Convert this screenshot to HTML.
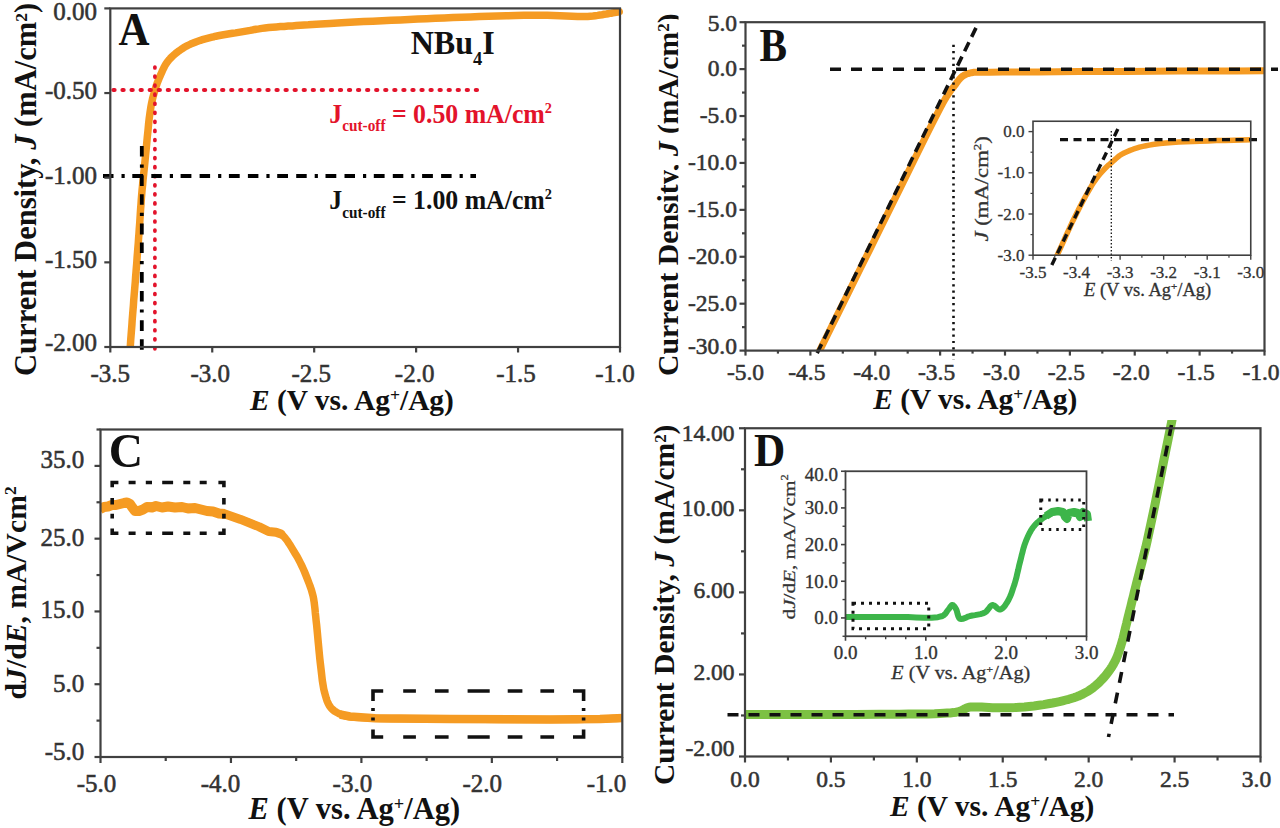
<!DOCTYPE html>
<html><head><meta charset="utf-8"><style>
html,body{margin:0;padding:0;background:#fff;}
svg{display:block;}
text{font-family:"Liberation Serif", serif;}
.tl{stroke:#333;stroke-width:0.55px;}
.ts{stroke-width:0.3px;}
</style></head><body>
<svg width="1280" height="828" viewBox="0 0 1280 828">
<rect width="1280" height="828" fill="#fff"/>
<defs><clipPath id="clipB"><rect x="600" y="0" width="78.5" height="414"/></clipPath><clipPath id="cA"><rect x="110.3" y="0" width="515" height="347"/></clipPath><clipPath id="cB"><rect x="745.5" y="0" width="519" height="350.6"/></clipPath><clipPath id="cIB"><rect x="1033" y="121" width="218" height="134.5"/></clipPath><clipPath id="cC"><rect x="100.5" y="429.5" width="522" height="327.5"/></clipPath><clipPath id="cD"><rect x="745" y="420" width="516" height="336.5"/></clipPath><clipPath id="cID"><rect x="845.5" y="471" width="244" height="165"/></clipPath></defs>
<polyline points="130.0,350.0 130.4,345.0 130.7,340.0 131.1,335.0 131.5,329.9 131.9,324.9 132.2,319.9 132.6,315.0 133.0,310.0 133.4,305.2 133.7,300.4 134.1,295.7 134.5,291.0 134.9,286.2 135.3,281.5 135.6,276.8 136.0,272.0 136.4,267.1 136.8,262.3 137.1,257.4 137.5,252.5 137.9,247.6 138.3,242.7 138.6,237.9 139.0,233.0 139.3,228.2 139.7,223.4 140.0,218.5 140.3,213.7 140.6,208.9 141.0,204.1 141.3,199.3 141.7,194.5 142.1,189.7 142.6,185.0 143.0,180.3 143.5,175.5 144.0,170.8 144.5,166.0 145.0,161.0 145.5,156.0 146.1,150.0 146.7,143.6 147.3,137.0 148.0,130.4 148.6,123.9 149.3,117.7 150.1,112.0 150.9,106.9 151.4,104.1 152.0,101.4 152.5,99.0 153.1,96.6 153.7,94.4 154.3,92.2 155.0,90.1 155.6,88.0 156.1,86.3 156.7,84.7 157.2,83.1 157.8,81.6 158.4,80.1 159.0,78.6 159.6,77.1 160.3,75.6 161.0,74.0 161.7,72.4 162.4,70.7 163.2,69.1 164.0,67.5 164.8,65.9 165.7,64.4 166.6,63.0 167.5,61.8 168.3,60.7 169.3,59.6 170.2,58.5 171.2,57.5 172.2,56.5 173.3,55.5 174.4,54.5 175.8,53.3 177.2,52.2 178.7,51.1 180.3,50.0 181.9,48.9 183.5,47.8 185.2,46.8 186.9,45.9 188.7,45.0 190.6,44.1 192.6,43.3 194.5,42.5 196.5,41.7 198.5,41.0 200.5,40.3 202.5,39.7 204.4,39.1 206.3,38.6 208.2,38.1 210.1,37.6 212.0,37.1 214.0,36.7 216.0,36.2 218.1,35.8 220.8,35.3 223.6,34.8 226.6,34.3 229.5,33.8 232.6,33.3 235.6,32.9 238.6,32.4 241.6,31.9 244.5,31.4 247.4,30.9 250.2,30.4 253.1,29.8 256.0,29.3 258.9,28.9 261.9,28.4 265.0,28.0 268.7,27.6 272.5,27.2 276.3,26.9 280.3,26.6 284.2,26.4 288.2,26.1 292.3,25.9 296.2,25.6 300.3,25.3 304.3,25.0 308.3,24.8 312.3,24.5 316.4,24.2 320.7,24.0 325.2,23.7 330.0,23.4 337.6,23.0 345.8,22.5 354.5,22.1 363.6,21.6 372.8,21.2 382.1,20.7 391.3,20.3 400.3,19.9 409.1,19.5 417.9,19.1 426.6,18.7 435.4,18.3 444.2,17.9 452.9,17.5 461.7,17.2 470.5,16.9 479.4,16.6 488.4,16.3 497.5,16.0 506.5,15.8 515.5,15.5 524.2,15.3 532.7,15.2 540.8,15.2 547.2,15.3 553.7,15.5 560.0,15.7 566.1,16.0 572.0,16.3 577.6,16.5 582.8,16.5 587.6,16.4 590.4,16.2 593.0,16.0 595.4,15.7 597.7,15.4 599.9,15.0 602.1,14.7 604.2,14.3 606.3,14.0 608.0,13.7 609.7,13.4 611.3,13.2 612.9,12.9 614.5,12.6 616.0,12.3 617.6,12.0 619.2,11.7" fill="none" stroke="#F59B23" stroke-width="7.5" stroke-linejoin="round" stroke-linecap="round" clip-path="url(#cA)"/>
<line x1="113.4" y1="90" x2="483" y2="90" stroke="#E3132B" stroke-width="4.1" stroke-dasharray="1.2 7.86" stroke-linecap="round"/>
<line x1="154.9" y1="67" x2="154.9" y2="353" stroke="#E3132B" stroke-width="3.7" stroke-dasharray="1.0 8.06" stroke-linecap="round"/>
<line x1="103" y1="176" x2="476" y2="176" stroke="#000" stroke-width="3.8" stroke-dasharray="10.5 8 3.2 7.6 10.8 8.2"/>
<line x1="141.8" y1="146" x2="141.8" y2="354" stroke="#000" stroke-width="3.8" stroke-dasharray="10.5 8 3.2 7.6 10.8 8.2"/>
<rect x="110.30" y="8.40" width="509.70" height="338.60" fill="none" stroke="#404040" stroke-width="2.2"/>
<line x1="110.30" y1="347.00" x2="110.30" y2="352.50" stroke="#404040" stroke-width="2.2" />
<text class="tl" x="110.30" y="381.50" font-size="25" text-anchor="middle" font-weight="normal" fill="#333333" >-3.5</text>
<line x1="212.24" y1="347.00" x2="212.24" y2="352.50" stroke="#404040" stroke-width="2.2" />
<text class="tl" x="210.24" y="381.50" font-size="25" text-anchor="middle" font-weight="normal" fill="#333333" >-3.0</text>
<line x1="314.18" y1="347.00" x2="314.18" y2="352.50" stroke="#404040" stroke-width="2.2" />
<text class="tl" x="311.18" y="381.50" font-size="25" text-anchor="middle" font-weight="normal" fill="#333333" >-2.5</text>
<line x1="416.12" y1="347.00" x2="416.12" y2="352.50" stroke="#404040" stroke-width="2.2" />
<text class="tl" x="414.62" y="381.50" font-size="25" text-anchor="middle" font-weight="normal" fill="#333333" >-2.0</text>
<line x1="518.06" y1="347.00" x2="518.06" y2="352.50" stroke="#404040" stroke-width="2.2" />
<text class="tl" x="516.06" y="381.50" font-size="25" text-anchor="middle" font-weight="normal" fill="#333333" >-1.5</text>
<line x1="620.00" y1="347.00" x2="620.00" y2="352.50" stroke="#404040" stroke-width="2.2" />
<text class="tl" x="615.00" y="381.50" font-size="25" text-anchor="middle" font-weight="normal" fill="#333333" >-1.0</text>
<line x1="104.30" y1="8.40" x2="110.30" y2="8.40" stroke="#404040" stroke-width="2.2" />
<text class="tl" x="97.00" y="20.00" font-size="25" text-anchor="end" font-weight="normal" fill="#333333" >0.00</text>
<line x1="104.30" y1="93.05" x2="110.30" y2="93.05" stroke="#404040" stroke-width="2.2" />
<text class="tl" x="97.00" y="99.10" font-size="25" text-anchor="end" font-weight="normal" fill="#333333" >-0.50</text>
<line x1="104.30" y1="177.70" x2="110.30" y2="177.70" stroke="#404040" stroke-width="2.2" />
<text class="tl" x="97.00" y="183.50" font-size="25" text-anchor="end" font-weight="normal" fill="#333333" >-1.00</text>
<line x1="104.30" y1="262.35" x2="110.30" y2="262.35" stroke="#404040" stroke-width="2.2" />
<text class="tl" x="97.00" y="268.40" font-size="25" text-anchor="end" font-weight="normal" fill="#333333" >-1.50</text>
<line x1="104.30" y1="347.00" x2="110.30" y2="347.00" stroke="#404040" stroke-width="2.2" />
<text class="tl" x="97.00" y="350.60" font-size="25" text-anchor="end" font-weight="normal" fill="#333333" >-2.00</text>
<g><g id="labA" transform="matrix(0.93333 0 0 1.01290 7.433 -0.381)"><text x="119" y="45" font-size="46" font-weight="bold" fill="#111">A</text></g></g>
<g><g id="nbu" transform="matrix(0.97209 0 0 1.00000 12.142 -0.400)"><text x="410" y="54" font-size="33" font-weight="bold" fill="#111">NBu<tspan font-size="19" dy="11.5">4</tspan><tspan dy="-11.5">I</tspan></text></g></g>
<g><g id="j050" transform="matrix(0.95560 0 0 1.00357 13.995 0.032)"><text x="330" y="122.5" font-size="27" font-weight="bold" fill="#E3132B">J<tspan font-size="16" dy="8.5">cut-off</tspan><tspan dy="-8.5"> = 0.50 mA/cm</tspan><tspan font-size="15" dy="-10">2</tspan></text></g></g>
<g><g id="j100" transform="matrix(0.95560 0 0 1.00357 13.995 -0.275)"><text x="330" y="208.6" font-size="27" font-weight="bold" fill="#111">J<tspan font-size="16" dy="8.5">cut-off</tspan><tspan dy="-8.5"> = 1.00 mA/cm</tspan><tspan font-size="15" dy="-10">2</tspan></text></g></g>
<g><g id="xtA" transform="matrix(0.98077 0 0 0.98077 6.169 7.575)"><text x="352.5" y="410" font-size="30" font-weight="bold" text-anchor="middle" fill="#111"><tspan font-style="italic">E</tspan> (V vs. Ag<tspan font-size="18" dy="-9.0">+</tspan><tspan dy="9.0">/Ag)</tspan></text></g></g>
<g><g id="ytA" transform="matrix(1.01923 0 0 1.01923 -2.027 1.862)"><text transform="translate(37,184) rotate(-90)" font-size="30" font-weight="bold" text-anchor="middle" fill="#111">Current Density, <tspan font-style="italic">J</tspan> (mA/cm<tspan font-size="17" dy="-9">2</tspan><tspan dy="9">)</tspan></text></g></g>
<polyline points="818.0,354.0 828.3,333.3 838.5,312.6 848.8,292.0 859.0,271.3 869.3,250.6 879.5,230.0 890.4,207.9 902.2,184.1 914.0,160.2 924.9,138.2 934.1,119.9 940.7,107.1 942.1,104.5 943.2,102.4 944.2,100.7 945.1,99.1 946.0,97.6 947.0,96.0 948.0,94.5 949.0,93.0 950.1,91.6 951.1,90.1 952.2,88.7 953.4,87.2 954.8,85.4 956.2,83.4 957.7,81.4 959.3,79.4 960.8,77.7 962.5,76.3 963.9,75.4 965.3,74.6 966.7,74.0 968.2,73.5 969.8,73.1 971.5,72.7 974.0,72.3 976.6,72.2 979.3,72.2 982.4,72.2 985.9,72.3 990.0,72.3 1002.8,72.1 1019.0,72.0 1037.9,71.9 1058.3,71.7 1079.3,71.6 1100.0,71.5 1125.4,71.4 1152.2,71.2 1180.0,71.1 1208.1,71.0 1236.3,70.9 1264.0,70.8" fill="none" stroke="#F59B23" stroke-width="7" stroke-linejoin="round" stroke-linecap="round" clip-path="url(#cB)"/>
<line x1="976" y1="27.85" x2="816" y2="355.5" stroke="#111" stroke-width="3.6" stroke-dasharray="10 6"/>
<line x1="830" y1="69.2" x2="1278" y2="69.2" stroke="#111" stroke-width="3.6" stroke-dasharray="11 10"/>
<line x1="953.5" y1="44.8" x2="953.5" y2="360" stroke="#111" stroke-width="2.6" stroke-dasharray="2.2 4.1"/>
<rect x="745.50" y="22.20" width="519.00" height="328.40" fill="none" stroke="#404040" stroke-width="2.2"/>
<line x1="745.50" y1="350.60" x2="745.50" y2="355.60" stroke="#404040" stroke-width="2.2" />
<text class="tl" x="745.50" y="379.50" font-size="23.5" text-anchor="middle" font-weight="normal" fill="#333333" >-5.0</text>
<line x1="777.94" y1="350.60" x2="777.94" y2="353.60" stroke="#404040" stroke-width="2.2" />
<line x1="810.38" y1="350.60" x2="810.38" y2="355.60" stroke="#404040" stroke-width="2.2" />
<text class="tl" x="806.88" y="379.50" font-size="23.5" text-anchor="middle" font-weight="normal" fill="#333333" >-4.5</text>
<line x1="842.81" y1="350.60" x2="842.81" y2="353.60" stroke="#404040" stroke-width="2.2" />
<line x1="875.25" y1="350.60" x2="875.25" y2="355.60" stroke="#404040" stroke-width="2.2" />
<text class="tl" x="871.75" y="379.50" font-size="23.5" text-anchor="middle" font-weight="normal" fill="#333333" >-4.0</text>
<line x1="907.69" y1="350.60" x2="907.69" y2="353.60" stroke="#404040" stroke-width="2.2" />
<line x1="940.12" y1="350.60" x2="940.12" y2="355.60" stroke="#404040" stroke-width="2.2" />
<text class="tl" x="936.62" y="379.50" font-size="23.5" text-anchor="middle" font-weight="normal" fill="#333333" >-3.5</text>
<line x1="972.56" y1="350.60" x2="972.56" y2="353.60" stroke="#404040" stroke-width="2.2" />
<line x1="1005.00" y1="350.60" x2="1005.00" y2="355.60" stroke="#404040" stroke-width="2.2" />
<text class="tl" x="1001.50" y="379.50" font-size="23.5" text-anchor="middle" font-weight="normal" fill="#333333" >-3.0</text>
<line x1="1037.44" y1="350.60" x2="1037.44" y2="353.60" stroke="#404040" stroke-width="2.2" />
<line x1="1069.88" y1="350.60" x2="1069.88" y2="355.60" stroke="#404040" stroke-width="2.2" />
<text class="tl" x="1066.38" y="379.50" font-size="23.5" text-anchor="middle" font-weight="normal" fill="#333333" >-2.5</text>
<line x1="1102.31" y1="350.60" x2="1102.31" y2="353.60" stroke="#404040" stroke-width="2.2" />
<line x1="1134.75" y1="350.60" x2="1134.75" y2="355.60" stroke="#404040" stroke-width="2.2" />
<text class="tl" x="1131.25" y="379.50" font-size="23.5" text-anchor="middle" font-weight="normal" fill="#333333" >-2.0</text>
<line x1="1167.19" y1="350.60" x2="1167.19" y2="353.60" stroke="#404040" stroke-width="2.2" />
<line x1="1199.62" y1="350.60" x2="1199.62" y2="355.60" stroke="#404040" stroke-width="2.2" />
<text class="tl" x="1196.12" y="379.50" font-size="23.5" text-anchor="middle" font-weight="normal" fill="#333333" >-1.5</text>
<line x1="1232.06" y1="350.60" x2="1232.06" y2="353.60" stroke="#404040" stroke-width="2.2" />
<line x1="1264.50" y1="350.60" x2="1264.50" y2="355.60" stroke="#404040" stroke-width="2.2" />
<text class="tl" x="1261.00" y="379.50" font-size="23.5" text-anchor="middle" font-weight="normal" fill="#333333" >-1.0</text>
<line x1="739.50" y1="22.20" x2="745.50" y2="22.20" stroke="#404040" stroke-width="2.2" />
<text class="tl" x="737.00" y="31.00" font-size="23.5" text-anchor="end" font-weight="normal" fill="#333333" >5.0</text>
<line x1="742.00" y1="45.66" x2="745.50" y2="45.66" stroke="#404040" stroke-width="2.2" />
<line x1="739.50" y1="69.11" x2="745.50" y2="69.11" stroke="#404040" stroke-width="2.2" />
<text class="tl" x="737.00" y="76.11" font-size="23.5" text-anchor="end" font-weight="normal" fill="#333333" >0.0</text>
<line x1="742.00" y1="92.57" x2="745.50" y2="92.57" stroke="#404040" stroke-width="2.2" />
<line x1="739.50" y1="116.03" x2="745.50" y2="116.03" stroke="#404040" stroke-width="2.2" />
<text class="tl" x="737.00" y="123.03" font-size="23.5" text-anchor="end" font-weight="normal" fill="#333333" >-5.0</text>
<line x1="742.00" y1="139.49" x2="745.50" y2="139.49" stroke="#404040" stroke-width="2.2" />
<line x1="739.50" y1="162.94" x2="745.50" y2="162.94" stroke="#404040" stroke-width="2.2" />
<text class="tl" x="737.00" y="169.94" font-size="23.5" text-anchor="end" font-weight="normal" fill="#333333" >-10.0</text>
<line x1="742.00" y1="186.40" x2="745.50" y2="186.40" stroke="#404040" stroke-width="2.2" />
<line x1="739.50" y1="209.86" x2="745.50" y2="209.86" stroke="#404040" stroke-width="2.2" />
<text class="tl" x="737.00" y="216.86" font-size="23.5" text-anchor="end" font-weight="normal" fill="#333333" >-15.0</text>
<line x1="742.00" y1="233.31" x2="745.50" y2="233.31" stroke="#404040" stroke-width="2.2" />
<line x1="739.50" y1="256.77" x2="745.50" y2="256.77" stroke="#404040" stroke-width="2.2" />
<text class="tl" x="737.00" y="263.77" font-size="23.5" text-anchor="end" font-weight="normal" fill="#333333" >-20.0</text>
<line x1="742.00" y1="280.23" x2="745.50" y2="280.23" stroke="#404040" stroke-width="2.2" />
<line x1="739.50" y1="303.69" x2="745.50" y2="303.69" stroke="#404040" stroke-width="2.2" />
<text class="tl" x="737.00" y="310.69" font-size="23.5" text-anchor="end" font-weight="normal" fill="#333333" >-25.0</text>
<line x1="742.00" y1="327.14" x2="745.50" y2="327.14" stroke="#404040" stroke-width="2.2" />
<line x1="739.50" y1="350.60" x2="745.50" y2="350.60" stroke="#404040" stroke-width="2.2" />
<text class="tl" x="737.00" y="354.20" font-size="23.5" text-anchor="end" font-weight="normal" fill="#333333" >-30.0</text>
<g><g id="labB" transform="matrix(0.96071 0 0 1.07679 28.396 -4.284)"><text x="761" y="61" font-size="43" font-weight="bold" fill="#111">B</text></g></g>
<g><g id="xtB" transform="matrix(0.98173 0 0 0.98173 18.594 6.012)"><text x="974.5" y="410" font-size="30" font-weight="bold" text-anchor="middle" fill="#111"><tspan font-style="italic">E</tspan> (V vs. Ag<tspan font-size="18" dy="-9.0">+</tspan><tspan dy="9.0">/Ag)</tspan></text></g></g>
<g clip-path="url(#clipB)"><g id="ytB" transform="matrix(0.99038 0 0 0.99038 5.512 1.625)"><text transform="translate(679,195) rotate(-90)" font-size="30" font-weight="bold" text-anchor="middle" fill="#111">Current Density, <tspan font-style="italic">J</tspan> (mA/cm<tspan font-size="17" dy="-9">2</tspan><tspan dy="9">)</tspan></text></g></g>
<rect x="1033" y="121.25" width="217.75" height="133.95" fill="#fff" stroke="none"/>
<polyline points="1055.5,259.0 1058.9,251.4 1062.4,243.8 1065.8,236.1 1069.3,228.6 1072.7,221.2 1076.2,214.2 1079.2,208.2 1082.3,202.3 1085.4,196.5 1088.5,191.1 1091.4,186.1 1094.3,181.6 1096.2,178.9 1098.0,176.5 1099.8,174.3 1101.6,172.2 1103.3,170.3 1105.0,168.5 1106.3,167.2 1107.5,166.0 1108.7,164.9 1110.0,163.9 1111.2,162.8 1112.5,161.7 1113.9,160.5 1115.3,159.2 1116.7,158.0 1118.1,156.7 1119.7,155.5 1121.5,154.4 1124.1,153.0 1126.9,151.7 1130.0,150.4 1133.2,149.2 1136.4,148.2 1139.6,147.2 1142.8,146.4 1146.0,145.7 1149.3,145.1 1152.6,144.5 1156.2,144.1 1160.0,143.6 1165.8,143.0 1172.2,142.5 1178.8,142.1 1185.8,141.8 1192.9,141.5 1200.0,141.2 1208.1,140.9 1216.5,140.6 1225.1,140.4 1233.8,140.2 1242.4,140.0 1251.0,139.8" fill="none" stroke="#F59B23" stroke-width="5.5" stroke-linejoin="round" stroke-linecap="round" clip-path="url(#cIB)"/>
<line x1="1051.8" y1="264.9" x2="1117.9" y2="129" stroke="#111" stroke-width="3.4" stroke-dasharray="8 5"/>
<line x1="1060" y1="139.6" x2="1261" y2="139.6" stroke="#111" stroke-width="3.4" stroke-dasharray="8 5.5"/>
<line x1="1111.3" y1="131" x2="1111.3" y2="261" stroke="#111" stroke-width="1.3" stroke-dasharray="1.5 2"/>
<rect x="1033.00" y="121.25" width="217.75" height="133.95" fill="none" stroke="#404040" stroke-width="1.6"/>
<line x1="1033.00" y1="255.20" x2="1033.00" y2="259.70" stroke="#404040" stroke-width="1.4" />
<text class="tl" x="1033.00" y="277.50" font-size="17" text-anchor="middle" font-weight="normal" fill="#333333" style="stroke-width:0.3px">-3.5</text>
<line x1="1054.77" y1="255.20" x2="1054.77" y2="257.70" stroke="#404040" stroke-width="1.2" />
<line x1="1076.55" y1="255.20" x2="1076.55" y2="259.70" stroke="#404040" stroke-width="1.4" />
<text class="tl" x="1076.55" y="277.50" font-size="17" text-anchor="middle" font-weight="normal" fill="#333333" style="stroke-width:0.3px">-3.4</text>
<line x1="1098.33" y1="255.20" x2="1098.33" y2="257.70" stroke="#404040" stroke-width="1.2" />
<line x1="1120.10" y1="255.20" x2="1120.10" y2="259.70" stroke="#404040" stroke-width="1.4" />
<text class="tl" x="1120.10" y="277.50" font-size="17" text-anchor="middle" font-weight="normal" fill="#333333" style="stroke-width:0.3px">-3.3</text>
<line x1="1141.88" y1="255.20" x2="1141.88" y2="257.70" stroke="#404040" stroke-width="1.2" />
<line x1="1163.65" y1="255.20" x2="1163.65" y2="259.70" stroke="#404040" stroke-width="1.4" />
<text class="tl" x="1163.65" y="277.50" font-size="17" text-anchor="middle" font-weight="normal" fill="#333333" style="stroke-width:0.3px">-3.2</text>
<line x1="1185.42" y1="255.20" x2="1185.42" y2="257.70" stroke="#404040" stroke-width="1.2" />
<line x1="1207.20" y1="255.20" x2="1207.20" y2="259.70" stroke="#404040" stroke-width="1.4" />
<text class="tl" x="1207.20" y="277.50" font-size="17" text-anchor="middle" font-weight="normal" fill="#333333" style="stroke-width:0.3px">-3.1</text>
<line x1="1228.97" y1="255.20" x2="1228.97" y2="257.70" stroke="#404040" stroke-width="1.2" />
<line x1="1250.75" y1="255.20" x2="1250.75" y2="259.70" stroke="#404040" stroke-width="1.4" />
<text class="tl" x="1250.75" y="277.50" font-size="17" text-anchor="middle" font-weight="normal" fill="#333333" style="stroke-width:0.3px">-3.0</text>
<line x1="1028.50" y1="131.60" x2="1033.00" y2="131.60" stroke="#404040" stroke-width="1.4" />
<text class="tl" x="1024.50" y="137.10" font-size="17" text-anchor="end" font-weight="normal" fill="#333333" style="stroke-width:0.3px">0.0</text>
<line x1="1030.50" y1="152.20" x2="1033.00" y2="152.20" stroke="#404040" stroke-width="1.2" />
<line x1="1028.50" y1="172.80" x2="1033.00" y2="172.80" stroke="#404040" stroke-width="1.4" />
<text class="tl" x="1024.50" y="178.30" font-size="17" text-anchor="end" font-weight="normal" fill="#333333" style="stroke-width:0.3px">-1.0</text>
<line x1="1030.50" y1="193.40" x2="1033.00" y2="193.40" stroke="#404040" stroke-width="1.2" />
<line x1="1028.50" y1="214.00" x2="1033.00" y2="214.00" stroke="#404040" stroke-width="1.4" />
<text class="tl" x="1024.50" y="219.50" font-size="17" text-anchor="end" font-weight="normal" fill="#333333" style="stroke-width:0.3px">-2.0</text>
<line x1="1030.50" y1="234.60" x2="1033.00" y2="234.60" stroke="#404040" stroke-width="1.2" />
<line x1="1028.50" y1="255.20" x2="1033.00" y2="255.20" stroke="#404040" stroke-width="1.4" />
<text class="tl" x="1024.50" y="260.70" font-size="17" text-anchor="end" font-weight="normal" fill="#333333" style="stroke-width:0.3px">-3.0</text>
<g><g id="xtIB" transform="matrix(1.00157 0 0 1.00000 -1.206 -1.900)"><text x="1147" y="297.5" font-size="18.5" text-anchor="middle" fill="#333333" style="stroke:#333;stroke-width:0.3px"><tspan font-style="italic">E</tspan> (V vs. Ag<tspan font-size="11" dy="-5.5">+</tspan><tspan dy="5.5">/Ag)</tspan></text></g></g>
<g><g id="ytIB" transform="matrix(0.88095 0 0 1.08041 112.810 -14.258)"><text transform="translate(993,188) rotate(-90)" font-size="21" text-anchor="middle" fill="#333333" style="stroke:#333;stroke-width:0.35px"><tspan font-style="italic">J</tspan> (mA/cm<tspan font-size="12" dy="-7">2</tspan><tspan dy="7">)</tspan></text></g></g>
<polyline points="99.0,508.5 99.2,508.4 99.5,508.4 99.7,508.3 99.9,508.3 100.2,508.2 100.5,508.1 101.7,507.8 103.3,507.4 105.1,506.9 107.0,506.4 108.9,506.0 110.5,505.6 111.6,505.4 112.7,505.2 113.8,505.0 114.8,504.9 115.8,504.7 116.8,504.5 117.7,504.3 118.6,504.0 119.4,503.7 120.3,503.5 121.2,503.2 122.0,503.0 122.7,502.8 123.4,502.6 124.1,502.5 124.8,502.3 125.5,502.3 126.1,502.3 126.7,502.4 127.3,502.6 127.9,502.9 128.5,503.3 129.0,503.6 129.5,504.0 129.9,504.4 130.3,504.9 130.6,505.4 131.0,505.9 131.3,506.4 131.8,506.9 132.3,507.5 132.8,508.3 133.4,509.0 134.0,509.6 134.7,510.2 135.5,510.6 136.6,510.9 137.8,510.9 139.2,510.9 140.5,510.7 141.8,510.4 143.0,510.0 143.9,509.5 144.7,508.8 145.4,508.1 146.2,507.4 147.0,506.7 148.0,506.2 149.7,506.0 151.6,506.0 153.7,506.2 155.9,506.5 158.2,506.7 160.5,506.9 163.3,506.9 166.2,506.9 169.1,506.9 172.1,506.8 175.1,506.8 178.0,506.9 180.7,507.0 183.3,507.1 186.0,507.3 188.6,507.5 191.1,507.8 193.7,508.1 196.1,508.5 198.5,508.9 200.8,509.4 203.1,509.9 205.5,510.4 207.8,510.9 210.1,511.3 212.4,511.8 214.7,512.2 217.1,512.6 219.4,513.1 221.9,513.7 224.9,514.5 228.0,515.3 231.1,516.3 234.3,517.3 237.5,518.3 240.6,519.4 243.8,520.6 247.1,521.8 250.4,523.1 253.6,524.4 256.6,525.7 259.3,526.9 261.1,527.8 262.7,528.6 264.3,529.5 265.7,530.3 267.2,531.0 268.7,531.5 270.0,531.8 271.2,531.9 272.5,531.9 273.7,532.0 274.9,532.0 276.0,532.2 276.9,532.4 277.8,532.6 278.6,532.9 279.4,533.2 280.2,533.6 281.0,534.0 281.8,534.6 282.6,535.3 283.3,536.0 284.1,536.8 284.8,537.6 285.5,538.5 286.3,539.5 287.1,540.5 287.8,541.6 288.6,542.8 289.4,544.0 290.3,545.4 291.8,547.9 293.5,550.7 295.3,553.7 297.2,556.8 298.9,560.0 300.5,563.1 301.9,566.0 303.3,569.0 304.6,572.0 305.8,575.0 307.0,578.0 308.1,580.9 309.1,583.5 310.0,585.9 310.9,588.4 311.7,590.9 312.4,593.4 313.1,596.1 313.7,599.3 314.2,602.5 314.6,605.9 315.0,609.3 315.3,612.8 315.7,616.4 316.1,620.5 316.6,624.7 317.0,628.9 317.4,633.2 317.8,637.5 318.2,641.8 318.6,646.0 319.0,650.3 319.4,654.5 319.8,658.7 320.3,663.0 320.8,667.2 321.3,671.5 321.8,675.9 322.3,680.3 323.0,684.7 323.7,688.8 324.6,692.6 325.4,695.5 326.2,698.3 327.1,700.9 328.2,703.4 329.4,705.7 330.9,707.8 332.6,709.5 334.4,711.0 336.5,712.3 338.7,713.5 341.1,714.5 343.6,715.4 347.1,716.3 350.8,716.9 354.8,717.3 359.1,717.6 363.8,717.7 369.0,718.0 379.8,718.4 392.3,718.7 406.1,718.8 420.7,718.9 435.5,718.9 450.0,719.0 466.5,719.1 483.8,719.3 501.5,719.4 518.8,719.5 535.2,719.5 550.0,719.5 559.5,719.5 568.6,719.4 577.2,719.4 585.3,719.3 592.9,719.2 600.0,719.0 604.5,718.9 608.6,718.7 612.5,718.5 616.3,718.4 620.1,718.2 624.0,718.0" fill="none" stroke="#F59B23" stroke-width="7.5" stroke-linejoin="round" stroke-linecap="round" clip-path="url(#cC)"/>
<polyline clip-path="url(#cC)" points="340,714.5 350,716.5 375,718.3 450,719 550,719.5 600,719 624,718" fill="none" stroke="#F59B23" stroke-width="8.5" stroke-linejoin="round"/>
<polyline clip-path="url(#cC)" points="225,514 240.6,519.4 259.3,526.9 268.7,531.5 276,532.2 281,534" fill="none" stroke="#F59B23" stroke-width="9" stroke-linejoin="round" stroke-linecap="round"/>
<polyline clip-path="url(#cC)" points="100,509 104,507 108,506.5 112,505 116,505 120,504 124,503 127,502.5 130,504 132,507 135,511 139,511 143,509.5 147,507 152,507.5 156,506 162,507.5 168,506.5 175,507.5 182,507 188,508.5 195,508 201,509.5 207,511 213,511.5 219,513.5 225,514" fill="none" stroke="#F59B23" stroke-width="10" stroke-linejoin="round"/>
<path d="M110.4,482.5L118.4,482.5 M128.6,482.5L135.6,482.5 M145.8,482.5L152.0,482.5 M162.2,482.5L173.1,482.5 M183.3,482.5L190.3,482.5 M199.7,482.5L206.7,482.5 M218.4,482.5L225.7,482.5 M110.4,533.3L118.4,533.3 M128.6,533.3L135.6,533.3 M145.8,533.3L152.0,533.3 M162.2,533.3L173.1,533.3 M183.3,533.3L190.3,533.3 M199.7,533.3L206.7,533.3 M218.4,533.3L225.7,533.3 M112.2,480.7L112.2,487.2 M112.2,498.0L112.2,504.4 M112.2,513.8L112.2,518.4 M112.2,528.6L112.2,535.1 M223.9,480.7L223.9,487.2 M223.9,498.0L223.9,504.4 M223.9,513.8L223.9,518.4 M223.9,528.6L223.9,535.1" stroke="#111" stroke-width="3.6" fill="none"/>
<path d="M371.2,691.0L383.2,691.0 M403.2,691.0L415.9,691.0 M434.9,691.0L448.6,691.0 M467.6,691.0L489.7,691.0 M507.7,691.0L522.4,691.0 M540.4,691.0L554.1,691.0 M573.0,691.0L585.4,691.0 M371.2,737.0L383.2,737.0 M403.2,737.0L415.9,737.0 M434.9,737.0L448.6,737.0 M467.6,737.0L489.7,737.0 M507.7,737.0L522.4,737.0 M540.4,737.0L554.1,737.0 M573.0,737.0L585.4,737.0 M373.0,689.2L373.0,701.0 M373.0,708.0L373.0,711.0 M373.0,717.5L373.0,720.5 M373.0,729.6L373.0,738.8 M583.6,689.2L583.6,701.0 M583.6,708.0L583.6,711.0 M583.6,717.5L583.6,720.5 M583.6,729.6L583.6,738.8" stroke="#111" stroke-width="3.6" fill="none"/>
<rect x="100.50" y="429.50" width="521.80" height="327.50" fill="none" stroke="#404040" stroke-width="2.2"/>
<line x1="100.50" y1="757.00" x2="100.50" y2="763.00" stroke="#404040" stroke-width="2.2" />
<text class="tl" x="96.50" y="791.50" font-size="25" text-anchor="middle" font-weight="normal" fill="#333333" >-5.0</text>
<line x1="165.72" y1="757.00" x2="165.72" y2="761.00" stroke="#404040" stroke-width="2.2" />
<line x1="230.95" y1="757.00" x2="230.95" y2="763.00" stroke="#404040" stroke-width="2.2" />
<text class="tl" x="220.55" y="791.50" font-size="25" text-anchor="middle" font-weight="normal" fill="#333333" >-4.0</text>
<line x1="296.17" y1="757.00" x2="296.17" y2="761.00" stroke="#404040" stroke-width="2.2" />
<line x1="361.40" y1="757.00" x2="361.40" y2="763.00" stroke="#404040" stroke-width="2.2" />
<text class="tl" x="352.40" y="791.50" font-size="25" text-anchor="middle" font-weight="normal" fill="#333333" >-3.0</text>
<line x1="426.62" y1="757.00" x2="426.62" y2="761.00" stroke="#404040" stroke-width="2.2" />
<line x1="491.85" y1="757.00" x2="491.85" y2="763.00" stroke="#404040" stroke-width="2.2" />
<text class="tl" x="482.25" y="791.50" font-size="25" text-anchor="middle" font-weight="normal" fill="#333333" >-2.0</text>
<line x1="557.07" y1="757.00" x2="557.07" y2="761.00" stroke="#404040" stroke-width="2.2" />
<line x1="622.30" y1="757.00" x2="622.30" y2="763.00" stroke="#404040" stroke-width="2.2" />
<text class="tl" x="606.50" y="791.50" font-size="25" text-anchor="middle" font-weight="normal" fill="#333333" >-1.0</text>
<line x1="94.50" y1="465.89" x2="100.50" y2="465.89" stroke="#404040" stroke-width="2.2" />
<text class="tl" x="84.30" y="468.20" font-size="25" text-anchor="end" font-weight="normal" fill="#333333" >35.0</text>
<line x1="94.50" y1="538.67" x2="100.50" y2="538.67" stroke="#404040" stroke-width="2.2" />
<text class="tl" x="84.30" y="546.40" font-size="25" text-anchor="end" font-weight="normal" fill="#333333" >25.0</text>
<line x1="94.50" y1="611.44" x2="100.50" y2="611.44" stroke="#404040" stroke-width="2.2" />
<text class="tl" x="84.30" y="617.90" font-size="25" text-anchor="end" font-weight="normal" fill="#333333" >15.0</text>
<line x1="94.50" y1="684.22" x2="100.50" y2="684.22" stroke="#404040" stroke-width="2.2" />
<text class="tl" x="84.30" y="691.50" font-size="25" text-anchor="end" font-weight="normal" fill="#333333" >5.0</text>
<line x1="94.50" y1="757.00" x2="100.50" y2="757.00" stroke="#404040" stroke-width="2.2" />
<text class="tl" x="84.30" y="760.00" font-size="25" text-anchor="end" font-weight="normal" fill="#333333" >-5.0</text>
<line x1="96.50" y1="429.50" x2="100.50" y2="429.50" stroke="#404040" stroke-width="2.2" />
<line x1="96.50" y1="502.28" x2="100.50" y2="502.28" stroke="#404040" stroke-width="2.2" />
<line x1="96.50" y1="575.06" x2="100.50" y2="575.06" stroke="#404040" stroke-width="2.2" />
<line x1="96.50" y1="647.83" x2="100.50" y2="647.83" stroke="#404040" stroke-width="2.2" />
<line x1="96.50" y1="720.61" x2="100.50" y2="720.61" stroke="#404040" stroke-width="2.2" />
<g><g id="labC" transform="matrix(1.05714 0 0 1.09655 -7.500 -45.686)"><text x="110" y="468" font-size="45" font-weight="bold" fill="#111">C</text></g></g>
<g><g id="xtC" transform="matrix(1.01779 0 0 1.01779 -5.929 -15.462)"><text x="354" y="820" font-size="30" font-weight="bold" text-anchor="middle" fill="#111"><tspan font-style="italic">E</tspan> (V vs. Ag<tspan font-size="18" dy="-9.0">+</tspan><tspan dy="9.0">/Ag)</tspan></text></g></g>
<g><g id="ytC" transform="matrix(0.98077 0 0 1.02319 -0.385 -11.793)"><text transform="translate(27,591) rotate(-90)" font-size="29" font-weight="bold" text-anchor="middle" fill="#111">d<tspan font-style="italic">J</tspan>/d<tspan font-style="italic">E</tspan>, mA/Vcm<tspan font-size="17" dy="-10">2</tspan></text></g></g>
<polyline points="745.0,714.5 772.0,714.5 800.4,714.5 828.8,714.4 855.8,714.4 880.0,714.3 900.0,714.2 908.4,714.1 915.8,714.1 922.6,714.0 928.7,713.9 934.5,713.8 940.0,713.5 943.6,713.3 947.1,713.1 950.3,712.9 953.3,712.6 956.2,712.2 958.8,711.6 960.6,711.0 962.2,710.3 963.7,709.5 965.1,708.7 966.5,708.0 968.0,707.5 969.2,707.2 970.4,707.1 971.6,707.0 972.8,706.9 974.1,706.9 975.6,706.9 978.4,706.9 981.6,707.1 985.1,707.3 988.8,707.5 992.5,707.7 996.3,707.8 1000.7,707.8 1005.4,707.8 1010.1,707.7 1014.9,707.6 1019.7,707.3 1024.4,707.0 1029.2,706.5 1034.0,706.0 1038.9,705.3 1043.6,704.6 1048.2,703.8 1052.6,703.0 1056.0,702.3 1059.4,701.6 1062.7,700.8 1065.8,700.0 1068.7,699.3 1071.3,698.5 1072.9,698.0 1074.4,697.6 1075.8,697.1 1077.1,696.6 1078.5,696.1 1080.0,695.4 1082.1,694.4 1084.2,693.3 1086.4,692.1 1088.7,690.8 1090.9,689.3 1093.0,687.8 1095.3,685.9 1097.6,683.9 1099.9,681.7 1102.1,679.4 1104.2,677.1 1106.1,674.8 1107.8,672.7 1109.3,670.6 1110.8,668.5 1112.2,666.3 1113.5,664.1 1114.8,661.7 1116.1,659.0 1117.3,656.2 1118.4,653.2 1119.4,650.2 1120.4,647.3 1121.3,644.3 1122.1,641.5 1122.9,638.6 1123.6,635.8 1124.3,632.9 1125.0,630.0 1125.7,627.0 1126.6,623.5 1127.4,620.0 1128.3,616.4 1129.2,612.7 1130.2,609.0 1131.1,605.2 1132.1,601.0 1133.2,596.9 1134.2,592.6 1135.3,588.3 1136.4,583.8 1137.6,579.1 1139.1,573.3 1140.6,567.5 1142.2,561.4 1143.8,554.9 1145.6,547.9 1147.4,540.0 1150.9,523.8 1154.9,504.9 1159.1,484.1 1163.4,462.4 1167.8,440.8 1172.0,420.0" fill="none" stroke="#7CC143" stroke-width="9" stroke-linejoin="round" stroke-linecap="round" clip-path="url(#cD)"/>
<line x1="1171.5" y1="425" x2="1108.5" y2="737" stroke="#111" stroke-width="3.6" stroke-dasharray="11 10"/>
<line x1="727.5" y1="714.8" x2="1174" y2="714.8" stroke="#111" stroke-width="3.6" stroke-dasharray="11 10"/>
<rect x="745.00" y="428.25" width="515.50" height="328.25" fill="none" stroke="#404040" stroke-width="2.2"/>
<line x1="745.00" y1="756.50" x2="745.00" y2="762.50" stroke="#404040" stroke-width="2.2" />
<text class="tl" x="745.00" y="787.00" font-size="23.5" text-anchor="middle" font-weight="normal" fill="#333333" >0.0</text>
<line x1="787.96" y1="756.50" x2="787.96" y2="760.50" stroke="#404040" stroke-width="2.2" />
<line x1="830.92" y1="756.50" x2="830.92" y2="762.50" stroke="#404040" stroke-width="2.2" />
<text class="tl" x="830.92" y="787.00" font-size="23.5" text-anchor="middle" font-weight="normal" fill="#333333" >0.5</text>
<line x1="873.88" y1="756.50" x2="873.88" y2="760.50" stroke="#404040" stroke-width="2.2" />
<line x1="916.83" y1="756.50" x2="916.83" y2="762.50" stroke="#404040" stroke-width="2.2" />
<text class="tl" x="916.83" y="787.00" font-size="23.5" text-anchor="middle" font-weight="normal" fill="#333333" >1.0</text>
<line x1="959.79" y1="756.50" x2="959.79" y2="760.50" stroke="#404040" stroke-width="2.2" />
<line x1="1002.75" y1="756.50" x2="1002.75" y2="762.50" stroke="#404040" stroke-width="2.2" />
<text class="tl" x="1002.75" y="787.00" font-size="23.5" text-anchor="middle" font-weight="normal" fill="#333333" >1.5</text>
<line x1="1045.71" y1="756.50" x2="1045.71" y2="760.50" stroke="#404040" stroke-width="2.2" />
<line x1="1088.67" y1="756.50" x2="1088.67" y2="762.50" stroke="#404040" stroke-width="2.2" />
<text class="tl" x="1088.67" y="787.00" font-size="23.5" text-anchor="middle" font-weight="normal" fill="#333333" >2.0</text>
<line x1="1131.62" y1="756.50" x2="1131.62" y2="760.50" stroke="#404040" stroke-width="2.2" />
<line x1="1174.58" y1="756.50" x2="1174.58" y2="762.50" stroke="#404040" stroke-width="2.2" />
<text class="tl" x="1174.58" y="787.00" font-size="23.5" text-anchor="middle" font-weight="normal" fill="#333333" >2.5</text>
<line x1="1217.54" y1="756.50" x2="1217.54" y2="760.50" stroke="#404040" stroke-width="2.2" />
<line x1="1260.50" y1="756.50" x2="1260.50" y2="762.50" stroke="#404040" stroke-width="2.2" />
<text class="tl" x="1256.50" y="787.00" font-size="23.5" text-anchor="middle" font-weight="normal" fill="#333333" >3.0</text>
<line x1="739.00" y1="428.25" x2="745.00" y2="428.25" stroke="#404040" stroke-width="2.2" />
<text class="tl" x="734.50" y="441.20" font-size="23.5" text-anchor="end" font-weight="normal" fill="#333333" >14.00</text>
<line x1="739.00" y1="510.31" x2="745.00" y2="510.31" stroke="#404040" stroke-width="2.2" />
<text class="tl" x="734.50" y="515.60" font-size="23.5" text-anchor="end" font-weight="normal" fill="#333333" >10.00</text>
<line x1="739.00" y1="592.38" x2="745.00" y2="592.38" stroke="#404040" stroke-width="2.2" />
<text class="tl" x="734.50" y="597.80" font-size="23.5" text-anchor="end" font-weight="normal" fill="#333333" >6.00</text>
<line x1="739.00" y1="674.44" x2="745.00" y2="674.44" stroke="#404040" stroke-width="2.2" />
<text class="tl" x="734.50" y="679.70" font-size="23.5" text-anchor="end" font-weight="normal" fill="#333333" >2.00</text>
<line x1="739.00" y1="756.50" x2="745.00" y2="756.50" stroke="#404040" stroke-width="2.2" />
<text class="tl" x="734.50" y="756.10" font-size="23.5" text-anchor="end" font-weight="normal" fill="#333333" >-2.00</text>
<line x1="741.00" y1="469.28" x2="745.00" y2="469.28" stroke="#404040" stroke-width="2.2" />
<line x1="741.00" y1="551.34" x2="745.00" y2="551.34" stroke="#404040" stroke-width="2.2" />
<line x1="741.00" y1="633.41" x2="745.00" y2="633.41" stroke="#404040" stroke-width="2.2" />
<line x1="741.00" y1="715.47" x2="745.00" y2="715.47" stroke="#404040" stroke-width="2.2" />
<g><g id="labD" transform="matrix(1.03103 0 0 1.08929 -24.431 -40.618)"><text x="755" y="465.25" font-size="42" font-weight="bold" fill="#111">D</text></g></g>
<g><g id="xtD" transform="matrix(0.98269 0 0 0.98269 17.252 14.102)"><text x="992" y="816" font-size="30" font-weight="bold" text-anchor="middle" fill="#111"><tspan font-style="italic">E</tspan> (V vs. Ag<tspan font-size="18" dy="-9.0">+</tspan><tspan dy="9.0">/Ag)</tspan></text></g></g>
<g><g id="ytD" transform="matrix(0.98489 0 0 0.98489 7.674 9.976)"><text transform="translate(677,604) rotate(-90)" font-size="30" font-weight="bold" text-anchor="middle" fill="#111">Current Density, <tspan font-style="italic">J</tspan> (mA/cm<tspan font-size="17" dy="-9">2</tspan><tspan dy="9">)</tspan></text></g></g>
<polyline points="845.5,617.0 854.7,617.0 863.9,617.0 873.2,617.1 882.3,617.1 891.3,617.1 900.0,617.0 907.9,617.1 916.1,617.4 924.2,617.7 931.6,617.7 937.9,617.2 942.5,616.0 943.9,615.2 944.9,614.2 945.8,613.2 946.5,612.1 947.2,611.0 948.0,610.0 948.8,609.0 949.6,607.9 950.3,606.8 951.1,605.9 951.8,605.2 952.5,605.0 953.1,605.2 953.7,605.7 954.3,606.4 954.9,607.2 955.5,608.1 956.0,609.0 956.7,610.5 957.2,612.4 957.7,614.4 958.3,616.3 959.0,617.8 960.0,618.8 961.3,619.0 962.8,618.8 964.5,618.2 966.3,617.4 968.1,616.6 970.0,616.0 972.4,615.5 975.0,615.1 977.7,614.6 980.4,614.1 982.8,613.4 985.0,612.5 986.5,611.3 987.8,609.8 989.0,608.2 990.1,606.7 991.3,605.5 992.5,605.0 993.7,605.3 995.0,606.1 996.3,607.3 997.5,608.5 998.8,609.3 1000.0,609.6 1001.3,609.2 1002.5,608.3 1003.8,607.1 1005.0,605.6 1006.1,603.9 1007.2,602.3 1008.6,599.8 1009.9,597.0 1011.2,594.0 1012.3,590.7 1013.4,587.4 1014.5,584.2 1015.5,580.7 1016.5,577.1 1017.3,573.4 1018.2,569.8 1019.0,566.1 1019.9,562.5 1020.8,559.1 1021.6,555.6 1022.5,552.2 1023.3,548.9 1024.3,545.6 1025.4,542.5 1026.4,539.9 1027.5,537.3 1028.7,534.8 1029.9,532.4 1031.2,530.1 1032.6,528.0 1033.9,526.3 1035.3,524.6 1036.8,523.1 1038.4,521.7 1040.0,520.3 1041.7,519.0 1043.6,517.6 1045.8,516.3 1048.0,515.0 1050.2,513.9 1052.3,513.1 1054.3,512.5 1055.7,512.3 1057.1,512.2 1058.4,512.2 1059.7,512.3 1060.9,512.6 1062.0,513.0 1062.8,513.6 1063.6,514.4 1064.2,515.3 1064.8,516.2 1065.4,516.8 1066.0,517.0 1066.5,516.7 1066.9,515.9 1067.3,514.9 1067.7,513.9 1068.2,513.0 1068.8,512.5 1069.6,512.4 1070.6,512.6 1071.7,513.0 1072.8,513.4 1073.9,513.8 1075.0,514.0 1076.1,514.0 1077.1,513.9 1078.2,513.7 1079.3,513.6 1080.4,513.5 1081.5,513.5 1082.9,513.7 1084.3,514.1 1085.7,514.5 1087.1,515.0 1088.6,515.5 1090.0,516.0" fill="none" stroke="#3DB54A" stroke-width="6" stroke-linejoin="round" stroke-linecap="round" clip-path="url(#cID)"/>
<polyline points="1046,516 1052,512 1058,511 1063,512 1065,517 1067,519 1069,513 1074,512 1078,513 1080,517 1083,512 1087,514 1088,521" fill="none" stroke="#3DB54A" stroke-width="8" stroke-linejoin="round"/>
<rect x="853" y="603.25" width="75.75" height="25.5" fill="none" stroke="#111" stroke-width="3" stroke-dasharray="3 5"/>
<rect x="1040.75" y="500" width="43" height="29.5" fill="none" stroke="#111" stroke-width="3" stroke-dasharray="2.5 5"/>
<rect x="845.50" y="471.25" width="241.00" height="165.00" fill="none" stroke="#404040" stroke-width="1.8"/>
<line x1="845.50" y1="636.25" x2="845.50" y2="640.75" stroke="#404040" stroke-width="1.6" />
<text class="tl" x="845.50" y="658.50" font-size="19" text-anchor="middle" font-weight="normal" fill="#333333" style="stroke-width:0.35px">0.0</text>
<line x1="865.58" y1="636.25" x2="865.58" y2="639.25" stroke="#404040" stroke-width="1.4" />
<line x1="885.67" y1="636.25" x2="885.67" y2="639.25" stroke="#404040" stroke-width="1.4" />
<line x1="905.75" y1="636.25" x2="905.75" y2="639.25" stroke="#404040" stroke-width="1.4" />
<line x1="925.83" y1="636.25" x2="925.83" y2="640.75" stroke="#404040" stroke-width="1.6" />
<text class="tl" x="925.83" y="658.50" font-size="19" text-anchor="middle" font-weight="normal" fill="#333333" style="stroke-width:0.35px">1.0</text>
<line x1="945.92" y1="636.25" x2="945.92" y2="639.25" stroke="#404040" stroke-width="1.4" />
<line x1="966.00" y1="636.25" x2="966.00" y2="639.25" stroke="#404040" stroke-width="1.4" />
<line x1="986.08" y1="636.25" x2="986.08" y2="639.25" stroke="#404040" stroke-width="1.4" />
<line x1="1006.17" y1="636.25" x2="1006.17" y2="640.75" stroke="#404040" stroke-width="1.6" />
<text class="tl" x="1006.17" y="658.50" font-size="19" text-anchor="middle" font-weight="normal" fill="#333333" style="stroke-width:0.35px">2.0</text>
<line x1="1026.25" y1="636.25" x2="1026.25" y2="639.25" stroke="#404040" stroke-width="1.4" />
<line x1="1046.33" y1="636.25" x2="1046.33" y2="639.25" stroke="#404040" stroke-width="1.4" />
<line x1="1066.42" y1="636.25" x2="1066.42" y2="639.25" stroke="#404040" stroke-width="1.4" />
<line x1="1086.50" y1="636.25" x2="1086.50" y2="640.75" stroke="#404040" stroke-width="1.6" />
<text class="tl" x="1086.50" y="658.50" font-size="19" text-anchor="middle" font-weight="normal" fill="#333333" style="stroke-width:0.35px">3.0</text>
<line x1="841.00" y1="471.25" x2="845.50" y2="471.25" stroke="#404040" stroke-width="1.6" />
<text class="tl" x="838.00" y="481.25" font-size="19" text-anchor="end" font-weight="normal" fill="#333333" style="stroke-width:0.35px">40.0</text>
<line x1="842.50" y1="489.58" x2="845.50" y2="489.58" stroke="#404040" stroke-width="1.4" />
<line x1="841.00" y1="507.92" x2="845.50" y2="507.92" stroke="#404040" stroke-width="1.6" />
<text class="tl" x="838.00" y="514.42" font-size="19" text-anchor="end" font-weight="normal" fill="#333333" style="stroke-width:0.35px">30.0</text>
<line x1="842.50" y1="526.25" x2="845.50" y2="526.25" stroke="#404040" stroke-width="1.4" />
<line x1="841.00" y1="544.58" x2="845.50" y2="544.58" stroke="#404040" stroke-width="1.6" />
<text class="tl" x="838.00" y="551.08" font-size="19" text-anchor="end" font-weight="normal" fill="#333333" style="stroke-width:0.35px">20.0</text>
<line x1="842.50" y1="562.92" x2="845.50" y2="562.92" stroke="#404040" stroke-width="1.4" />
<line x1="841.00" y1="581.25" x2="845.50" y2="581.25" stroke="#404040" stroke-width="1.6" />
<text class="tl" x="838.00" y="587.75" font-size="19" text-anchor="end" font-weight="normal" fill="#333333" style="stroke-width:0.35px">10.0</text>
<line x1="842.50" y1="599.58" x2="845.50" y2="599.58" stroke="#404040" stroke-width="1.4" />
<line x1="841.00" y1="617.92" x2="845.50" y2="617.92" stroke="#404040" stroke-width="1.6" />
<text class="tl" x="838.00" y="624.42" font-size="19" text-anchor="end" font-weight="normal" fill="#333333" style="stroke-width:0.35px">0.0</text>
<line x1="842.50" y1="636.25" x2="845.50" y2="636.25" stroke="#404040" stroke-width="1.4" />
<g><g id="xtID" transform="matrix(1.01014 0 0 0.90500 -8.429 63.175)"><text x="959.5" y="680" font-size="20" text-anchor="middle" fill="#333333" style="stroke:#333;stroke-width:0.3px"><tspan font-style="italic">E</tspan> (V vs. Ag<tspan font-size="12" dy="-6.0">+</tspan><tspan dy="6.0">/Ag)</tspan></text></g></g>
<g><g id="ytID" transform="matrix(0.85238 0 0 1.03429 116.595 -18.854)"><text transform="translate(796,547) rotate(-90)" font-size="20.5" text-anchor="middle" fill="#333333" style="stroke:#333;stroke-width:0.3px">d<tspan font-style="italic">J</tspan>/d<tspan font-style="italic">E</tspan>, mA/Vcm<tspan font-size="12" dy="-8">2</tspan></text></g></g>
</svg>
</body></html>
